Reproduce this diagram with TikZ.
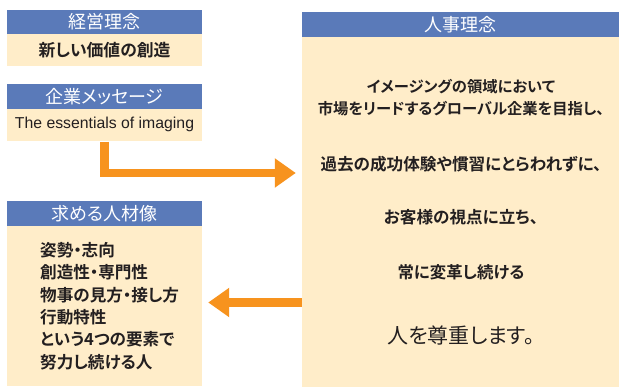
\documentclass[tikz,border=0pt]{standalone}
\usepackage{fontspec}
\usetikzlibrary{arrows.meta}
\newfontfamily\jp{Noto Sans CJK JP}[RawFeature=+palt]
\newfontfamily\jpb{Noto Sans CJK JP Bold}[RawFeature=+palt]
\newfontfamily\en{Liberation Sans}
\definecolor{hdrblue}{HTML}{5A7AB9}
\definecolor{cream}{HTML}{FFEDC9}
\definecolor{orng}{HTML}{F7931E}
\definecolor{ink}{HTML}{231F20}
\tikzset{
  hdr/.style={fill=hdrblue, text=white, inner sep=0pt, font=\jp\fontsize{18}{20}\selectfont},
  bodybox/.style={fill=cream, inner sep=0pt},
  bodytxt/.style={text=ink, inner sep=0pt, font=\jpb\fontsize{15.5}{18}\selectfont},
  bigarrow/.style={draw=orng, line width=8.5pt, -{Triangle[length=21pt,width=28pt]}, shorten >=6pt}
}
\begin{document}
\begin{tikzpicture}[x=1pt,y=-1pt]
\useasboundingbox (0,0) rectangle (619,387);
% box 1
\node[hdr, minimum width=195pt, minimum height=24pt] (h1) at (104.5,22) {経営理念};
\node[bodybox, minimum width=195pt, minimum height=32pt, anchor=north] (b1) at (h1.south) {};
\node[bodytxt, font=\jpb\fontsize{16.8}{18}\selectfont] (t1) at (b1.center) {新しい価値の創造};
% box 2
\node[hdr, minimum width=195pt, minimum height=25pt] (h2) at (104.5,96.5) {企業メッセージ};
\node[bodybox, minimum width=195pt, minimum height=32pt, anchor=north] (b2) at (h2.south) {};
\node[text=ink, inner sep=0pt, font=\en\fontsize{15.8}{18}\selectfont] (t2) at ([yshift=1pt]b2.center) {The essentials of imaging};
% box 3
\node[hdr, minimum width=195pt, minimum height=25pt] (h3) at (104.5,213.5) {求める人材像};
\node[bodybox, minimum width=195pt, minimum height=160pt, anchor=north] (b3) at (h3.south) {};
\node[bodytxt, align=left, anchor=west, font=\jpb\fontsize{16.6}{22.4}\selectfont] (t3) at (40,306) {姿勢・志向\\創造性・専門性\\物事の見方・接し方\\行動特性\\という4つの要素で\\努力し続ける人};
% right box
\node[hdr, minimum width=317pt, minimum height=25pt] (h4) at (460.5,24.5) {人事理念};
\node[bodybox, minimum width=317pt, minimum height=350pt, anchor=north] (b4) at (h4.south) {};
\node[bodytxt, align=center, font=\jpb\fontsize{15.3}{22}\selectfont] (r1) at (461,98) {イメージングの領域において\\市場をリードするグローバル企業を目指し、};
\node[bodytxt, font=\jpb\fontsize{16.6}{18}\selectfont] (r2) at (461,164) {過去の成功体験や慣習にとらわれずに、};
\node[bodytxt, font=\jpb\fontsize{16.6}{18}\selectfont] (r3) at (461,217) {お客様の視点に立ち、};
\node[bodytxt, font=\jpb\fontsize{16.4}{18}\selectfont] (r4) at (461,272) {常に変革し続ける};
\node[text=ink, inner sep=0pt, font=\jp\fontsize{21}{24}\selectfont] (r5) at (461,335) {人を尊重します。};
% arrows
\coordinate (a1) at (0,173);
\coordinate (a2) at (0,302.5);
\draw[bigarrow] (b2.south) |- (b4.west |- a1);
\draw[bigarrow] (b4.west |- a2) -- (b3.east |- a2);
\end{tikzpicture}
\end{document}
